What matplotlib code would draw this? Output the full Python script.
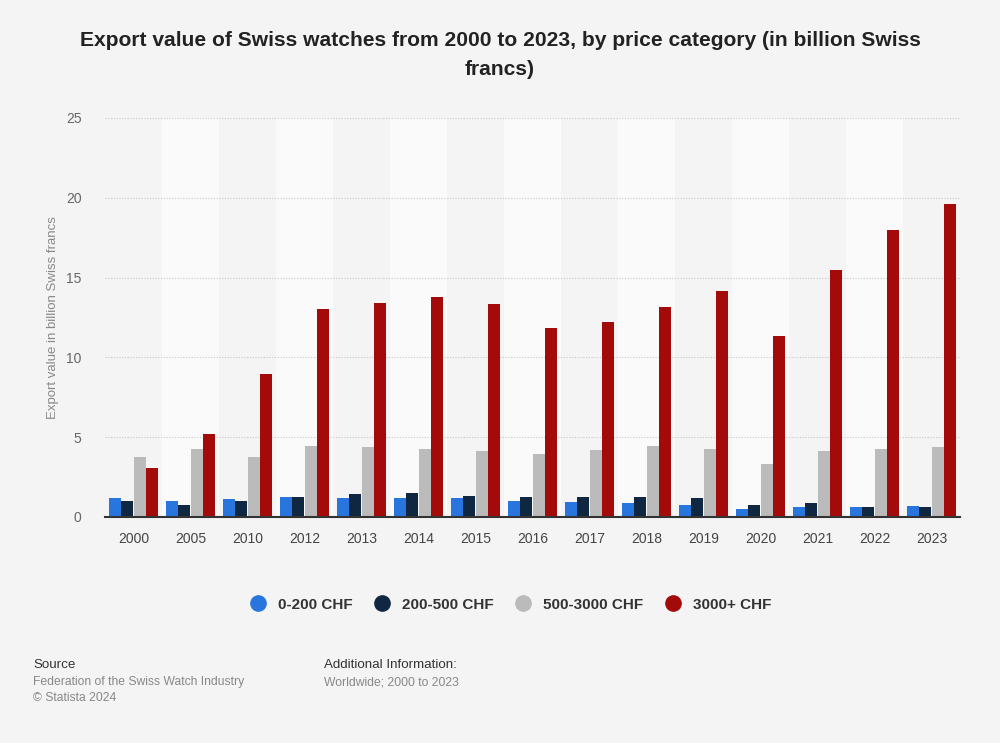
import matplotlib.pyplot as plt
import numpy as np

# data (billion CHF)
anos = ['2000', '2005', '2010', '2012', '2013', '2014', '2015', '2016', '2017',
        '2018', '2019', '2020', '2021', '2022', '2023']
cat_0_200 = [1.19, 1.03, 1.11, 1.28, 1.19, 1.19, 1.19, 1.03, 0.94, 0.86, 0.77, 0.52, 0.60, 0.60, 0.69]
cat_200_500 = [1.03, 0.75, 1.03, 1.28, 1.42, 1.53, 1.34, 1.28, 1.28, 1.28, 1.19, 0.77, 0.86, 0.60, 0.60]
cat_500_3000 = [3.77, 4.28, 3.77, 4.44, 4.36, 4.28, 4.11, 3.94, 4.19, 4.44, 4.28, 3.35, 4.11, 4.28, 4.36]
cat_3000 = [3.09, 5.18, 8.98, 13.05, 13.4, 13.8, 13.32, 11.84, 12.24, 13.16, 14.16, 11.34, 15.48, 17.98, 19.61]

series = [cat_0_200, cat_200_500, cat_500_3000, cat_3000]
nomes = ['0-200 CHF', '200-500 CHF', '500-3000 CHF', '3000+ CHF']
cores = ['#2876dd', '#0f2741', '#bbbbbb', '#a30b0b']

plt.rcParams['font.family'] = ['Liberation Sans', 'DejaVu Sans']

fig = plt.figure(figsize=(10, 7.43), dpi=100)
fig.patch.set_facecolor('#f4f4f4')
ax = fig.add_axes([0.105, 0.3042, 0.855, 0.537])
ax.set_facecolor('#f4f4f4')

x = np.arange(len(anos))
# faixas alternadas
for i in x:
    if i % 2 == 1:
        ax.axvspan(i - 0.5, i + 0.5, color='#fafafa', zorder=0, lw=0)

ax.set_ylim(0, 25)
ax.set_xlim(-0.5, len(anos) - 0.5)
ax.set_yticks([0, 5, 10, 15, 20, 25])
ax.yaxis.grid(True, linestyle=(0, (1, 1.5)), color='#c8c8c8', linewidth=0.8)
ax.set_axisbelow(True)

passo = 0.222
largura = 0.21
for k, (vals, nome, cor) in enumerate(zip(series, nomes, cores)):
    ax.bar(x + (k - 1.5) * passo, vals, largura, color=cor, label=nome, zorder=3)

for s in ['top', 'right', 'left']:
    ax.spines[s].set_visible(False)
ax.spines['bottom'].set_color('#333333')
ax.spines['bottom'].set_linewidth(1.5)
ax.spines['bottom'].set_zorder(4)

ax.set_xticks(x)
ax.set_xticklabels(anos, fontsize=10, color='#444444')
ax.tick_params(axis='x', length=0, pad=11)
ax.tick_params(axis='y', length=0, pad=17, labelsize=10, labelcolor='#666666')
ax.set_ylabel('Export value in billion Swiss francs', fontsize=9.5, color='#888888', labelpad=5)

fig.text(0.5, 0.958, 'Export value of Swiss watches from 2000 to 2023, by price category (in billion Swiss\nfrancs)',
         ha='center', va='top', fontsize=15.1, fontweight='bold', color='#222222', linespacing=1.62)

# legenda
handles = [plt.Line2D([], [], marker='o', linestyle='', markersize=11, color=c) for c in cores]
fig.legend(handles, nomes, loc='center', bbox_to_anchor=(0.507, 0.186), ncol=4, frameon=False,
           prop={'weight': 'bold', 'size': 11}, labelcolor='#333333',
           handletextpad=0.3, columnspacing=0.95)

# rodapé
fig.text(0.033, 0.105, 'Source', fontsize=9.6, color='#333333', va='center')
fig.text(0.033, 0.082, 'Federation of the Swiss Watch Industry', fontsize=8.7, color='#888888', va='center')
fig.text(0.033, 0.061, '© Statista 2024', fontsize=8.7, color='#888888', va='center')
fig.text(0.324, 0.105, 'Additional Information:', fontsize=9.6, color='#333333', va='center')
fig.text(0.324, 0.082, 'Worldwide; 2000 to 2023', fontsize=8.7, color='#888888', va='center')

plt.savefig('out.png', dpi=100, facecolor=fig.get_facecolor())
